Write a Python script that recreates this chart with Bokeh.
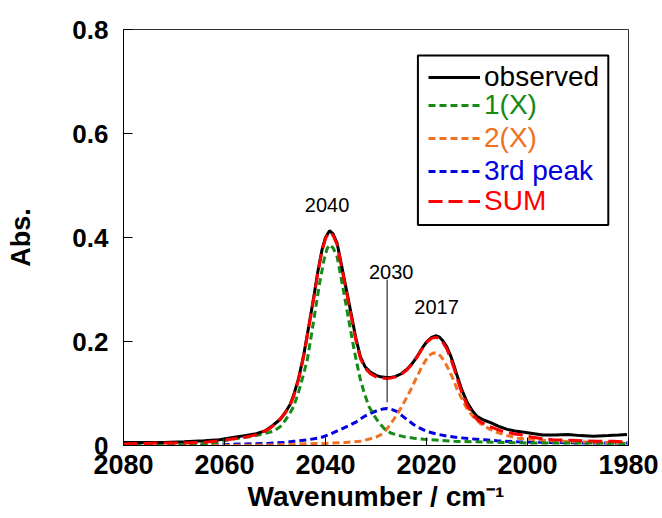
from bokeh.plotting import figure
from bokeh.models import (Range1d, FixedTicker, Legend, LegendItem, BoxAnnotation)
from bokeh.embed import file_html
from bokeh.resources import INLINE

# ---------------- data ----------------
obs_x = [2080, 2076, 2072, 2068, 2064, 2061, 2058, 2056, 2054, 2052, 2050.5, 2049, 2048, 2047,
         2046.3, 2045.3, 2044.3, 2043.3, 2042.3, 2041.5, 2040.7, 2040, 2039.2, 2038.5, 2037.7,
         2037, 2036, 2035.3, 2034.7, 2034, 2033.1, 2032.2, 2031.1, 2030, 2029.1, 2028, 2027,
         2026.1, 2025, 2023.8, 2022.8, 2021.8, 2020.8, 2019.9, 2019, 2018.2, 2017.5, 2016.9,
         2016, 2015.2, 2014.5, 2013.9, 2013, 2011.9, 2011, 2010, 2008.7, 2007.3, 2005.5, 2004,
         2002.5, 2001, 1999, 1997, 1994.5, 1992, 1989.5, 1987, 1984, 1982, 1980.3]
obs_y = [0.006, 0.006, 0.006, 0.007, 0.009, 0.011, 0.016, 0.019, 0.022, 0.028, 0.038, 0.050,
         0.063, 0.079, 0.097, 0.130, 0.175, 0.230, 0.287, 0.335, 0.376, 0.400, 0.413, 0.407,
         0.389, 0.355, 0.306, 0.272, 0.242, 0.207, 0.171, 0.152, 0.141, 0.135, 0.132, 0.131,
         0.131, 0.133, 0.138, 0.147, 0.158, 0.172, 0.188, 0.200, 0.208, 0.211, 0.209, 0.203,
         0.190, 0.172, 0.152, 0.133, 0.107, 0.082, 0.068, 0.056, 0.049, 0.044, 0.036, 0.031,
         0.028, 0.026, 0.023, 0.020, 0.020, 0.021, 0.019, 0.018, 0.019, 0.020, 0.021]

sum_x = [2080, 2076, 2072, 2068, 2064, 2061, 2058.8, 2056, 2054, 2052.9, 2051, 2049.5, 2048,
         2047, 2046.3, 2045.3, 2044.3, 2043.3, 2042.3, 2041.5, 2040.7, 2040, 2039.2, 2038.5,
         2037.7, 2037, 2036, 2035.3, 2034.7, 2034, 2033.1, 2032.2, 2031.1, 2030, 2029.1, 2028,
         2027, 2026.1, 2025, 2023.8, 2022.8, 2021.8, 2020.8, 2019.9, 2019, 2018.2, 2017.5,
         2016.9, 2016, 2015.2, 2014.5, 2013.9, 2013, 2011.9, 2011, 2010, 2008.7, 2007.3, 2005.5,
         2004, 2002.5, 2001, 1999, 1997, 1995, 1992, 1989, 1986, 1983, 1980]
sum_y = [0.003, 0.004, 0.005, 0.005, 0.006, 0.009, 0.012, 0.016, 0.020, 0.024, 0.033, 0.045,
         0.062, 0.078, 0.095, 0.128, 0.172, 0.228, 0.285, 0.333, 0.374, 0.398, 0.410, 0.404,
         0.386, 0.352, 0.303, 0.268, 0.238, 0.203, 0.168, 0.149, 0.138, 0.132, 0.130, 0.129,
         0.130, 0.132, 0.137, 0.146, 0.157, 0.171, 0.187, 0.199, 0.206, 0.208, 0.206, 0.200,
         0.186, 0.167, 0.147, 0.128, 0.101, 0.076, 0.062, 0.050, 0.042, 0.036, 0.029, 0.025,
         0.022, 0.020, 0.016, 0.013, 0.011, 0.010, 0.009, 0.008, 0.008, 0.007]

p1_x = [2080, 2075, 2070, 2066, 2063, 2060.5, 2058.8, 2056.5, 2054.2, 2052, 2050.2, 2049,
        2048.3, 2047.3, 2046.3, 2045.3, 2044.4, 2043.6, 2042.8, 2042, 2041.2, 2040.3, 2039.7,
        2039.2, 2038.5, 2037.7, 2036.9, 2036, 2035.3, 2034.7, 2033.9, 2033.1, 2032.3, 2031.4,
        2030.4, 2029.4, 2028.2, 2027.1, 2025.8, 2024.5, 2022.5, 2020.5, 2017.5, 2014.6, 2010,
        2004.7, 2000, 1990, 1980]
p1_y = [0.000, 0.000, 0.001, 0.002, 0.004, 0.008, 0.012, 0.015, 0.018, 0.023, 0.028, 0.036,
        0.044, 0.058, 0.075, 0.104, 0.135, 0.165, 0.212, 0.261, 0.310, 0.357, 0.378, 0.386,
        0.380, 0.363, 0.322, 0.274, 0.236, 0.203, 0.163, 0.127, 0.100, 0.075, 0.058, 0.044,
        0.031, 0.024, 0.020, 0.017, 0.014, 0.012, 0.010, 0.008, 0.007, 0.006, 0.005, 0.005,
        0.004]

p2_x = [2080, 2070, 2060, 2050, 2045, 2040, 2036, 2033.1, 2031.1, 2030, 2029, 2028, 2027.2,
        2026.5, 2025.5, 2024.5, 2023.6, 2022.8, 2022, 2021.2, 2020.5, 2019.9, 2019.2, 2018.6,
        2017.9, 2017.2, 2016.4, 2015.6, 2014.7, 2013.9, 2012.9, 2011.9, 2010.6, 2009.3, 2007.6,
        2006, 2004, 2001.9, 1998, 1995.8, 1990, 1985, 1980]
p2_y = [0.000, 0.000, 0.000, 0.001, 0.003, 0.004, 0.006, 0.008, 0.013, 0.016, 0.021, 0.030,
        0.040, 0.050, 0.065, 0.082, 0.098, 0.114, 0.130, 0.146, 0.158, 0.168, 0.175, 0.178,
        0.178, 0.172, 0.161, 0.146, 0.127, 0.107, 0.088, 0.069, 0.054, 0.042, 0.032, 0.025,
        0.019, 0.014, 0.011, 0.009, 0.007, 0.006, 0.006]

p3_x = [2080, 2070, 2062, 2056, 2051.5, 2048, 2046.3, 2043.5, 2041, 2039, 2037, 2035.4, 2033.8,
        2032.3, 2031.1, 2029.8, 2028.7, 2027.8, 2026.8, 2025.8, 2024.8, 2023.6, 2022.5, 2021.2,
        2019.9, 2018, 2015.9, 2013.5, 2011.3, 2008.5, 2006, 2002, 1996, 1990, 1980]
p3_y = [0.000, 0.000, 0.001, 0.003, 0.004, 0.006, 0.008, 0.011, 0.015, 0.022, 0.031, 0.038,
        0.046, 0.056, 0.062, 0.067, 0.070, 0.071, 0.069, 0.065, 0.057, 0.048, 0.040, 0.033,
        0.027, 0.022, 0.018, 0.015, 0.013, 0.011, 0.009, 0.007, 0.006, 0.005, 0.005]

series_names = ["observed", "1(X)", "2(X)", "3rd peak", "SUM"]

x_ticks = [2080, 2060, 2040, 2020, 2000, 1980]
y_ticks = [0, 0.2, 0.4, 0.6, 0.8]
y_tick_labels = ["0", "0.2", "0.4", "0.6", "0.8"]

peak_text = ["2040", "2030", "2017"]
peak_x = [2039.7, 2027.0, 2018.0]
peak_y = [0.463, 0.334, 0.267]
leader_x = [2027.8]
leader_y0 = [0.083]
leader_y1 = [0.319]

# ---------------- figure ----------------
FONT = "Liberation Sans"
p = figure(frame_width=505, frame_height=416, x_range=Range1d(2080, 1980),
           y_range=Range1d(0, 0.8), output_backend="svg", toolbar_location=None,
           min_border_left=123, min_border_right=32, min_border_top=29, min_border_bottom=70)
p.xgrid.visible = False
p.ygrid.visible = False
p.outline_line_color = "#333333"
p.outline_line_width = 1
p.background_fill_color = "white"
p.border_fill_color = "white"

for ax in (p.xaxis[0], p.yaxis[0]):
    ax.axis_line_color = "black"
    ax.axis_line_width = 1
    ax.major_tick_line_color = "black"
    ax.major_tick_out = 0
    ax.minor_tick_line_color = None
    ax.major_label_text_font = FONT
    ax.major_label_text_font_style = "bold"
    ax.major_label_text_color = "black"
    ax.axis_label_text_font = FONT
    ax.axis_label_text_font_style = "bold"
    ax.axis_label_text_color = "black"

p.xaxis.ticker = FixedTicker(ticks=x_ticks)
p.xaxis.major_tick_in = 8
p.xaxis.major_label_text_font_size = "27px"
p.xaxis.major_label_standoff = 9
p.xaxis.axis_label = "Wavenumber / cm\u207b\u00b9"
p.xaxis.axis_label_text_font_size = "28px"
p.xaxis.axis_label_standoff = 4

p.yaxis.ticker = FixedTicker(ticks=y_ticks)
p.yaxis.major_label_overrides = {t: s for t, s in zip(y_ticks, y_tick_labels)}
p.yaxis.major_tick_in = 9
p.yaxis.major_label_text_font_size = "26px"
p.yaxis.major_label_standoff = 15
p.yaxis.axis_label = "Abs."
p.yaxis.axis_label_text_font_size = "27px"
p.yaxis.axis_label_standoff = 33

GREEN = "#158a15"
ORANGE = "#ef7222"
BLUE = "#0000e0"
RED = "#ff0000"

r3 = p.line(p3_x, p3_y, line_color=BLUE, line_width=3, line_dash="7 4")
r2 = p.line(p2_x, p2_y, line_color=ORANGE, line_width=3, line_dash="7 4")
r1 = p.line(p1_x, p1_y, line_color=GREEN, line_width=3, line_dash="7 4")
r0 = p.line(obs_x, obs_y, line_color="black", line_width=3)
r4 = p.line(sum_x, sum_y, line_color=RED, line_width=3, line_dash="14 6")

# leader line and peak labels
p.segment(x0=leader_x, y0=leader_y0, x1=leader_x, y1=leader_y1, line_color="black", line_width=1)
p.text(x=peak_x, y=peak_y, text=peak_text, text_align="center", text_baseline="middle",
       text_font={"value": FONT}, text_font_size="20px", text_color="black")

# legend box
box = BoxAnnotation(left=2021.7, right=1984.0, top=0.750, bottom=0.424,
                    fill_color="white", fill_alpha=1, line_color="black", line_alpha=1,
                    line_width=2)
p.add_layout(box)

colors = ["black", GREEN, ORANGE, BLUE, RED]
rends = [r0, r1, r2, r3, r4]
legend_y = [352, 324, 291, 258, 228]
for name, col, rend, ly in zip(series_names, colors, rends, legend_y):
    lg = Legend(items=[LegendItem(label=name, renderers=[rend])], location=(305, ly),
                padding=0, margin=0, spacing=0, glyph_width=52, glyph_height=30,
                label_height=30, label_standoff=4, border_line_color=None,
                background_fill_alpha=0, label_text_font=FONT, label_text_font_size="28px",
                label_text_color=col)
    p.add_layout(lg, "center")

open("out.html", "w").write(file_html(p, INLINE))
